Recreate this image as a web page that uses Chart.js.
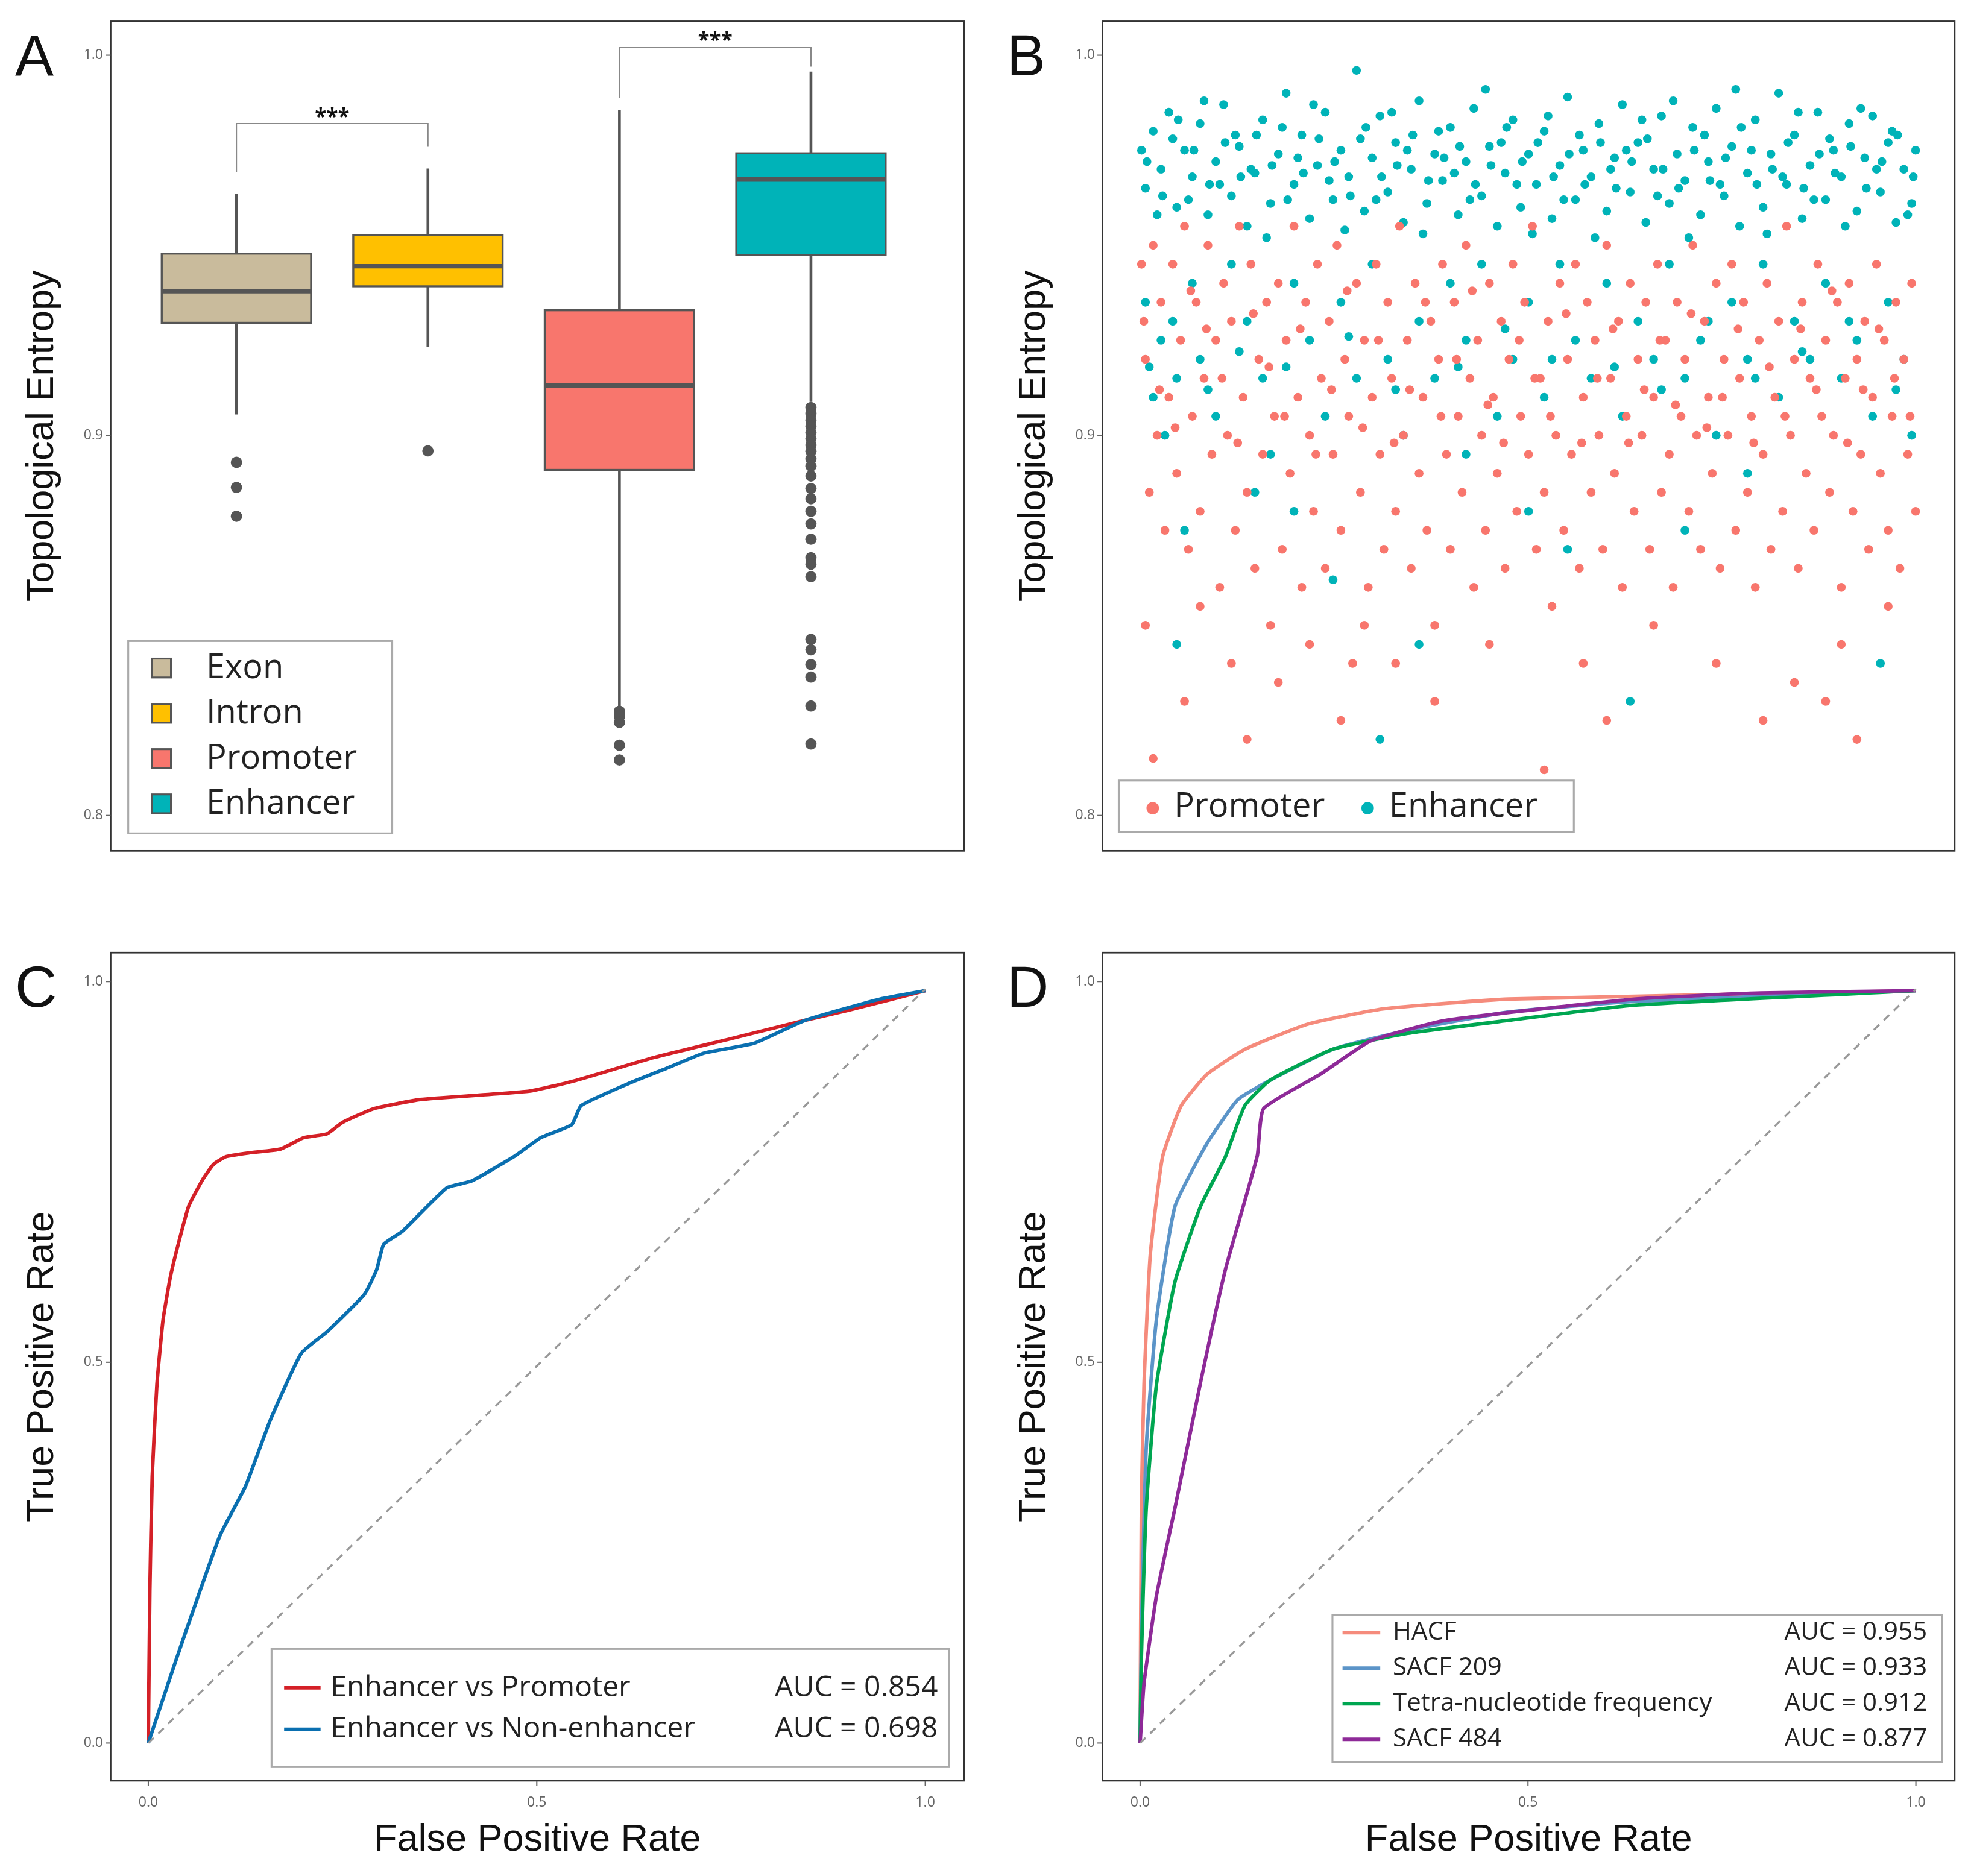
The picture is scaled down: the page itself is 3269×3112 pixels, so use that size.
<!DOCTYPE html>
<html><head><meta charset="utf-8">
<script src="https://cdn.jsdelivr.net/npm/chart.js@4"></script>
<style>body{margin:0;background:#fff;width:3269px;height:3112px;position:relative;overflow:hidden}canvas{position:absolute}</style>
</head><body>
<canvas id="cA"></canvas><canvas id="cB"></canvas><canvas id="cC"></canvas><canvas id="cD"></canvas>
<script>
var S = 2.085;
var FONT = '"Open Sans", "DejaVu Sans", sans-serif';
var TFONT = '"Liberation Sans", Arial, sans-serif';

// ---- panel A: box plot stats [whiskerLow, q1, median, q3, whiskerHigh]
var boxNames = ["Exon", "Intron", "Promoter", "Enhancer"];
var boxColors = ["#c9bb9c", "#ffc000", "#f8766d", "#00b3b8"];
var boxStats = [
  [0.9055, 0.9296, 0.9379, 0.9478, 0.9636],
  [0.9233, 0.9392, 0.9445, 0.9527, 0.9702],
  [0.8288, 0.8909, 0.9131, 0.9329, 0.9855],
  [0.9088, 0.9474, 0.9673, 0.9742, 0.9957]
];
var outExon = [0.8929, 0.8863, 0.8787];
var outIntron = [0.8959];
var outPromoter = [0.8274, 0.8261, 0.8245, 0.8185, 0.8146];
var outEnhancer = [0.9073, 0.9057, 0.9040, 0.9024, 0.9007, 0.8991, 0.8974, 0.8958, 0.8938, 0.8919,
  0.8893, 0.8860, 0.8833, 0.8800, 0.8767, 0.8727, 0.8678, 0.8661, 0.8628, 0.8463, 0.8436, 0.8397, 0.8364, 0.8288, 0.8188];

// ---- panel B: scatter points [x, entropy]
var enhancerPts = [[.01,.965],[.02,.98],[.03,.97],[.04,.985],[.05,.96],[.06,.975],[.07,.968],[.08,.982],[.09,.958],[.10,.972],[.11,.987],[.12,.963],[.13,.976],[.14,.955],[.15,.969],[.16,.983],[.17,.961],[.18,.974],[.19,.99],[.20,.966],[.21,.979],[.22,.957],[.23,.971],[.24,.985],[.25,.962],[.26,.975],[.27,.968],[.28,.996],[.29,.959],[.30,.973],[.31,.984],[.32,.964],[.33,.977],[.34,.956],[.35,.97],[.36,.988],[.37,.961],[.38,.974],[.39,.967],[.40,.981],[.41,.958],[.42,.972],[.43,.986],[.44,.963],[.45,.976],[.46,.955],[.47,.969],[.48,.983],[.49,.96],[.50,.974],[.51,.966],[.52,.98],[.53,.957],[.54,.971],[.55,.989],[.56,.962],[.57,.975],[.58,.968],[.59,.982],[.60,.959],[.61,.973],[.62,.987],[.63,.964],[.64,.977],[.65,.956],[.66,.97],[.67,.984],[.68,.961],[.69,.974],[.70,.967],[.71,.981],[.72,.958],[.73,.972],[.74,.986],[.75,.963],[.76,.976],[.77,.955],[.78,.969],[.79,.983],[.80,.96],[.81,.974],[.82,.99],[.83,.966],[.84,.979],[.85,.957],[.86,.971],[.87,.985],[.88,.962],[.89,.975],[.90,.968],[.91,.982],[.92,.959],[.93,.973],[.94,.984],[.95,.964],[.96,.977],[.97,.956],[.98,.97],[.99,.961],
  [.005,.975],[.025,.958],[.045,.978],[.065,.962],[.085,.988],[.105,.966],[.125,.979],[.145,.97],[.165,.952],[.185,.981],[.205,.973],[.225,.987],[.245,.967],[.265,.954],[.285,.978],[.305,.962],[.325,.985],[.345,.975],[.365,.953],[.385,.98],[.405,.969],[.425,.962],[.445,.991],[.465,.977],[.485,.966],[.505,.953],[.525,.984],[.545,.962],[.565,.979],[.585,.952],[.605,.97],[.625,.975],[.645,.983],[.665,.963],[.685,.988],[.705,.952],[.725,.979],[.745,.966],[.765,.991],[.785,.975],[.805,.953],[.825,.968],[.845,.985],[.865,.962],[.885,.978],[.905,.955],[.925,.986],[.945,.97],[.965,.98],[.985,.958],[.995,.975],
  [.012,.972],[.032,.963],[.052,.983],[.072,.975],[.092,.966],[.112,.977],[.132,.968],[.152,.979],[.172,.971],[.192,.962],[.212,.969],[.232,.978],[.252,.972],[.272,.963],[.292,.981],[.312,.968],[.332,.971],[.352,.979],[.372,.967],[.392,.973],[.412,.976],[.432,.966],[.452,.971],[.472,.981],[.492,.972],[.512,.977],[.532,.968],[.552,.974],[.572,.966],[.592,.977],[.612,.965],[.632,.972],[.652,.978],[.672,.97],[.692,.965],[.712,.975],[.732,.967],[.752,.973],[.772,.981],[.792,.966],[.812,.97],[.832,.977],[.852,.965],[.872,.974],[.892,.969],[.912,.976],[.932,.965],[.952,.972],[.972,.979],[.992,.968],
  [.01,.935],[.02,.91],[.03,.925],[.035,.9],[.05,.915],[.06,.875],[.07,.94],[.08,.92],[.1,.905],[.12,.945],[.14,.93],[.16,.915],[.17,.895],[.2,.94],[.22,.925],[.24,.905],[.26,.935],[.28,.915],[.3,.945],[.32,.92],[.34,.9],[.36,.93],[.38,.915],[.4,.94],[.42,.925],[.44,.945],[.46,.905],[.48,.92],[.5,.935],[.52,.91],[.54,.945],[.56,.925],[.58,.915],[.6,.94],[.62,.905],[.64,.93],[.66,.92],[.68,.945],[.7,.915],[.72,.925],[.74,.9],[.76,.935],[.78,.92],[.8,.945],[.82,.91],[.84,.93],[.86,.92],[.88,.94],[.9,.915],[.92,.925],[.94,.905],[.96,.935],[.98,.92],[.99,.9],
  [.015,.918],[.045,.93],[.09,.912],[.13,.922],[.19,.918],[.27,.926],[.33,.912],[.41,.918],[.47,.928],[.53,.92],[.61,.918],[.67,.912],[.73,.93],[.79,.915],[.85,.922],[.91,.93],[.97,.912],
  [.05,.845],[.2,.88],[.25,.862],[.31,.82],[.36,.845],[.5,.88],[.55,.87],[.63,.83],[.7,.875],[.78,.89],[.95,.84],[.15,.885],[.42,.895]];
var promoterPts = [[.005,.945],[.01,.92],[.015,.885],[.02,.95],[.025,.9],[.03,.935],[.035,.875],[.04,.91],[.045,.945],[.05,.89],[.055,.925],[.06,.955],[.065,.87],[.07,.905],[.075,.935],[.08,.88],[.085,.915],[.09,.95],[.095,.895],[.10,.925],[.105,.86],[.11,.94],[.115,.9],[.12,.93],[.125,.875],[.13,.955],[.135,.91],[.14,.885],[.145,.945],[.15,.865],[.155,.92],[.16,.895],[.165,.935],[.17,.85],[.175,.905],[.18,.94],[.185,.87],[.19,.925],[.195,.89],[.20,.955],[.205,.91],[.21,.86],[.215,.935],[.22,.9],[.225,.88],[.23,.945],[.235,.915],[.24,.865],[.245,.93],[.25,.895],[.255,.95],[.26,.875],[.265,.92],[.27,.905],[.275,.84],[.28,.94],[.285,.885],[.29,.925],[.295,.86],[.30,.91],[.305,.945],[.31,.895],[.315,.87],[.32,.935],[.325,.915],[.33,.88],[.335,.955],[.34,.9],[.345,.925],[.35,.865],[.355,.94],[.36,.89],[.365,.91],[.37,.875],[.375,.93],[.38,.85],[.385,.92],[.39,.945],[.395,.895],[.40,.87],[.405,.935],[.41,.905],[.415,.885],[.42,.95],[.425,.915],[.43,.86],[.435,.925],[.44,.9],[.445,.875],[.45,.94],[.455,.91],[.46,.89],[.465,.93],[.47,.865],[.475,.92],[.48,.945],[.485,.88],[.49,.905],[.495,.935],[.50,.895],[.505,.955],[.51,.87],[.515,.915],[.52,.885],[.525,.93],[.53,.855],[.535,.9],[.54,.94],[.545,.875],[.55,.92],[.555,.895],[.56,.945],[.565,.865],[.57,.91],[.575,.935],[.58,.885],[.585,.925],[.59,.9],[.595,.87],[.60,.95],[.605,.915],[.61,.89],[.615,.93],[.62,.86],[.625,.905],[.63,.94],[.635,.88],[.64,.92],[.645,.9],[.65,.935],[.655,.87],[.66,.91],[.665,.945],[.67,.885],[.675,.925],[.68,.895],[.685,.86],[.69,.935],[.695,.905],[.70,.92],[.705,.88],[.71,.95],[.715,.9],[.72,.87],[.725,.93],[.73,.91],[.735,.89],[.74,.94],[.745,.865],[.75,.92],[.755,.9],[.76,.945],[.765,.875],[.77,.915],[.775,.935],[.78,.885],[.785,.905],[.79,.86],[.795,.925],[.80,.895],[.805,.94],[.81,.87],[.815,.91],[.82,.93],[.825,.88],[.83,.955],[.835,.9],[.84,.92],[.845,.865],[.85,.935],[.855,.89],[.86,.915],[.865,.875],[.87,.945],[.875,.905],[.88,.925],[.885,.885],[.89,.9],[.895,.935],[.90,.86],[.905,.915],[.91,.94],[.915,.88],[.92,.92],[.925,.895],[.93,.93],[.935,.87],[.94,.91],[.945,.945],[.95,.89],[.955,.925],[.96,.875],[.965,.905],[.97,.935],[.975,.865],[.98,.92],[.985,.895],[.99,.94],[.995,.88],
  [.008,.93],[.028,.912],[.048,.902],[.068,.938],[.088,.928],[.108,.915],[.128,.898],[.148,.932],[.168,.918],[.188,.905],[.208,.928],[.228,.895],[.248,.912],[.268,.938],[.288,.902],[.308,.925],[.328,.898],[.348,.912],[.368,.935],[.388,.905],[.408,.92],[.428,.938],[.448,.908],[.468,.898],[.488,.925],[.508,.915],[.528,.905],[.548,.932],[.568,.898],[.588,.915],[.608,.928],[.628,.898],[.648,.912],[.668,.925],[.688,.908],[.708,.932],[.728,.902],[.748,.91],[.768,.928],[.788,.898],[.808,.918],[.828,.905],[.848,.928],[.868,.912],[.888,.938],[.908,.898],[.928,.912],[.948,.928],[.968,.915],[.988,.905],
  [.01,.85],[.02,.815],[.06,.83],[.08,.855],[.12,.84],[.14,.82],[.18,.835],[.22,.845],[.26,.825],[.29,.85],[.33,.84],[.38,.83],[.45,.845],[.52,.812],[.57,.84],[.6,.825],[.66,.85],[.74,.84],[.8,.825],[.84,.835],[.88,.83],[.92,.82],[.9,.845],[.96,.855]];

// ---- panel C / D: ROC curves [FPR, TPR]
var rocEvP = [[0,0],[0.002,0.2],[0.005,0.35],[0.011,0.47],[0.019,0.556],[0.028,0.61],[0.036,0.645],[0.052,0.705],[0.07,0.74],[0.084,0.76],[0.1,0.77],[0.13,0.775],[0.17,0.78],[0.2,0.795],[0.23,0.8],[0.25,0.815],[0.29,0.833],[0.35,0.845],[0.49,0.856],[0.55,0.87],[0.65,0.9],[0.75,0.925],[0.845,0.949],[0.9,0.962],[1,0.988]];
var rocEvN = [[0,0],[0.036,0.11],[0.092,0.272],[0.125,0.337],[0.157,0.424],[0.197,0.512],[0.23,0.54],[0.278,0.589],[0.294,0.622],[0.303,0.655],[0.327,0.672],[0.384,0.729],[0.416,0.738],[0.472,0.771],[0.505,0.795],[0.545,0.812],[0.557,0.837],[0.618,0.866],[0.667,0.886],[0.715,0.906],[0.78,0.919],[0.845,0.949],[0.942,0.977],[1,0.988]];
var rocHACF = [[0,0],[0.0016,0.31],[0.005,0.47],[0.013,0.64],[0.029,0.77],[0.053,0.837],[0.086,0.878],[0.135,0.911],[0.216,0.944],[0.313,0.964],[0.475,0.977],[1,0.988]];
var rocS209 = [[0,0],[0.0016,0.14],[0.008,0.39],[0.021,0.556],[0.045,0.705],[0.086,0.787],[0.126,0.845],[0.167,0.87],[0.248,0.911],[0.345,0.936],[0.475,0.96],[0.637,0.974],[1,0.988]];
var rocTetra = [[0,0],[0.0016,0.11],[0.008,0.31],[0.021,0.47],[0.045,0.606],[0.078,0.705],[0.11,0.77],[0.135,0.837],[0.167,0.87],[0.248,0.911],[0.345,0.932],[0.475,0.949],[0.637,0.969],[1,0.988]];
var rocS484 = [[0,0],[0.005,0.078],[0.021,0.193],[0.045,0.309],[0.078,0.474],[0.11,0.622],[0.151,0.771],[0.159,0.833],[0.232,0.878],[0.297,0.922],[0.394,0.949],[0.637,0.977],[0.8,0.985],[1,0.988]];
var diag = [[0,0],[1,0.99]];
var yTicksAB = [0.8, 0.9, 1.0];
var rocTicks = [0, 0.5, 1.0];

function pts(a){ return a.map(function(p){ return {x:p[0], y:p[1]}; }); }
function f(sz, w, fam){ return (w||"normal") + " " + Math.round(sz*S) + "px " + (fam||FONT); }

// frame + ticks + titles, all placed through the chart's scales
function frame(opt){
  return { id:"frame", afterDraw:function(ch){
    var c = ch.ctx, a = ch.chartArea, xs = ch.scales.x, ys = ch.scales.y;
    c.save();
    c.strokeStyle = "#333"; c.lineWidth = 1.3*S;
    c.strokeRect(a.left, a.top, a.right-a.left, a.bottom-a.top);
    c.fillStyle = "#666"; c.font = f(11); c.strokeStyle = "#666"; c.lineWidth = 1*S;
    c.textAlign = "right"; c.textBaseline = "middle";
    opt.yt.forEach(function(v){ var y = ys.getPixelForValue(v);
      c.beginPath(); c.moveTo(a.left-4*S, y); c.lineTo(a.left, y); c.stroke();
      c.fillText(v.toFixed(1), a.left-6*S, y); });
    if (opt.xt) { c.textAlign = "center"; c.textBaseline = "top";
      opt.xt.forEach(function(v){ var x = xs.getPixelForValue(v);
        c.beginPath(); c.moveTo(x, a.bottom); c.lineTo(x, a.bottom+4*S); c.stroke();
        c.fillText(v.toFixed(1), x, a.bottom+12*S); });
      c.fillStyle = "#111"; c.font = f(30, "normal", TFONT);
      c.fillText(opt.xTitle, (a.left+a.right)/2, a.bottom+32*S);
    }
    c.fillStyle = "#111"; c.font = f(30, "normal", TFONT);
    c.translate(a.left-54*S, (a.top+a.bottom)/2); c.rotate(-Math.PI/2);
    c.textAlign = "center"; c.textBaseline = "middle";
    c.fillText(opt.yTitle, 0, 0);
    c.restore();
    c.save(); c.fillStyle = "#111"; c.font = f(46, "normal", TFONT); c.textBaseline = "alphabetic"; c.textAlign = "left";
    c.fillText(opt.letter, a.left-76*S, a.top+43*S); c.restore();
    if (opt.extra) opt.extra(ch);
  }};
}

function make(id, left, top, w, h, pad, cfg){
  var cv = document.getElementById(id);
  cv.width = Math.round(w*S); cv.height = Math.round(h*S);
  cv.style.left = Math.round(left*S)+"px"; cv.style.top = Math.round(top*S)+"px";
  cfg.options = Object.assign({
    responsive:false, animation:false, devicePixelRatio:1,
    layout:{padding:{left:pad[0]*S, top:pad[1]*S, right:pad[2]*S, bottom:pad[3]*S}},
    plugins:{legend:{display:false}, tooltip:{enabled:false}}
  }, cfg.options);
  return new Chart(cv, cfg);
}
function hidden(min, max){ return {type:"linear", min:min, max:max, display:false}; }

// ---------- A
var boxPlugin = { id:"boxes", beforeDatasetsDraw:function(ch){
  var c = ch.ctx, xs = ch.scales.x, ys = ch.scales.y, hw = 0.39;
  c.save(); c.strokeStyle = "#555";
  boxStats.forEach(function(s, i){
    var x = xs.getPixelForValue(i+1), x0 = xs.getPixelForValue(i+1-hw), x1 = xs.getPixelForValue(i+1+hw);
    c.lineWidth = 2.2*S;
    c.beginPath(); c.moveTo(x, ys.getPixelForValue(s[0])); c.lineTo(x, ys.getPixelForValue(s[1]));
    c.moveTo(x, ys.getPixelForValue(s[3])); c.lineTo(x, ys.getPixelForValue(s[4])); c.stroke();
    var yq3 = ys.getPixelForValue(s[3]), yq1 = ys.getPixelForValue(s[1]);
    c.fillStyle = boxColors[i]; c.fillRect(x0, yq3, x1-x0, yq1-yq3);
    c.lineWidth = 1.6*S; c.strokeRect(x0, yq3, x1-x0, yq1-yq3);
    c.lineWidth = 3.5*S; c.beginPath();
    c.moveTo(x0, ys.getPixelForValue(s[2])); c.lineTo(x1, ys.getPixelForValue(s[2])); c.stroke();
  });
  // significance brackets
  c.strokeStyle = "#888"; c.lineWidth = 1*S; c.fillStyle = "#111"; c.font = f(17, "bold");
  c.textAlign = "center"; c.textBaseline = "middle";
  [[1, 2, 0.9693, 0.9759, 0.9820], [3, 4, 0.9888, 0.9970, 1.0020]].forEach(function(b){
    var xa = xs.getPixelForValue(b[0]), xb = xs.getPixelForValue(b[1]), yt = ys.getPixelForValue(b[4]);
    c.beginPath(); c.moveTo(xa, ys.getPixelForValue(b[2])); c.lineTo(xa, yt); c.lineTo(xb, yt);
    c.lineTo(xb, ys.getPixelForValue(b[3])); c.stroke();
    c.fillText("***", (xa+xb)/2, yt-5*S);
  });
  c.restore();
}};
function legendA(ch){
  var c = ch.ctx; c.save();
  var bx = 102*S, by = 510*S;
  c.fillStyle = "#fff"; c.strokeStyle = "#aaa"; c.lineWidth = 1.5*S;
  c.fillRect(bx, by, 210*S, 153*S); c.strokeRect(bx, by, 210*S, 153*S);
  c.font = f(27); c.textBaseline = "middle"; c.textAlign = "left";
  boxNames.forEach(function(n, i){
    var y = (531 + i*36)*S;
    c.fillStyle = boxColors[i]; c.fillRect(121*S, y-7*S, 15*S, 15*S);
    c.strokeStyle = "#555"; c.lineWidth = 1.5*S; c.strokeRect(121*S, y-7*S, 15*S, 15*S);
    c.fillStyle = "#222"; c.fillText(n, 164*S, y+1*S);
  });
  c.restore();
}
function outDs(vals, xi){ return { type:"scatter", data:vals.map(function(v){ return {x:xi, y:v}; }),
  pointRadius:4.5*S, pointBackgroundColor:"#555", pointBorderWidth:0 }; }
make("cA", 0, 0, 790, 720, [88, 17, 23, 43], {
  type:"scatter",
  data:{datasets:[outDs(outExon,1), outDs(outIntron,2), outDs(outPromoter,3), outDs(outEnhancer,4)]},
  options:{scales:{x:hidden(0.343, 4.80), y:hidden(0.7907, 1.0089)}},
  plugins:[boxPlugin, frame({yt:yTicksAB, yTitle:"Topological Entropy", letter:"A", extra:legendA})]
});

// ---------- B
function legendB(ch){
  var c = ch.ctx, ox = 790; c.save();
  c.fillStyle = "#fff"; c.strokeStyle = "#aaa"; c.lineWidth = 1.5*S;
  c.fillRect((890-ox)*S, 621*S, 362*S, 41*S); c.strokeRect((890-ox)*S, 621*S, 362*S, 41*S);
  c.font = f(27); c.textBaseline = "middle"; c.textAlign = "left";
  [["Promoter", "#f8766d", 917], ["Enhancer", "#00b3b8", 1088]].forEach(function(l){
    c.fillStyle = l[1]; c.beginPath(); c.arc((l[2]-ox)*S, 643*S, 5*S, 0, Math.PI*2); c.fill();
    c.fillStyle = "#222"; c.fillText(l[0], (l[2]-ox+17)*S, 642*S);
  });
  c.restore();
}
make("cB", 790, 0, 778, 720, [87, 17, 13, 43], {
  type:"scatter",
  data:{datasets:[
    {data:pts(promoterPts), pointRadius:3.5*S, pointBackgroundColor:"#f8766d", pointBorderWidth:0},
    {data:pts(enhancerPts), pointRadius:3.5*S, pointBackgroundColor:"#00b3b8", pointBorderWidth:0}]},
  options:{scales:{x:hidden(-0.045, 1.045), y:hidden(0.7907, 1.0089)}},
  plugins:[frame({yt:yTicksAB, yTitle:"Topological Entropy", letter:"B", extra:legendB})]
});

// ---------- C / D
function line(d, col){ return {data:pts(d), showLine:true, borderColor:col, borderWidth:2.8*S, pointRadius:0, tension:0.15}; }
function dash(){ return {data:pts(diag), showLine:true, borderColor:"#999", borderWidth:1.6*S, borderDash:[6*S, 5*S], pointRadius:0}; }
function rocLegend(ox, oy, box, rows, size, lx, tx, ax, step, first){
  return function(ch){
    var c = ch.ctx; c.save();
    c.fillStyle = "#fff"; c.strokeStyle = "#aaa"; c.lineWidth = 1.5*S;
    c.fillRect((box[0]-ox)*S, (box[1]-oy)*S, box[2]*S, box[3]*S);
    c.strokeRect((box[0]-ox)*S, (box[1]-oy)*S, box[2]*S, box[3]*S);
    c.font = f(size); c.textBaseline = "middle";
    rows.forEach(function(r, i){
      var y = (first + i*step - oy)*S;
      c.strokeStyle = r[1]; c.lineWidth = 2.8*S; c.beginPath();
      c.moveTo((lx[0]-ox)*S, y); c.lineTo((lx[1]-ox)*S, y); c.stroke();
      c.fillStyle = "#222"; c.textAlign = "left"; c.fillText(r[0], (tx-ox)*S, y);
      c.textAlign = "right"; c.fillText(r[2], (ax-ox)*S, y);
    });
    c.restore();
  };
}
var rocScales = {x:hidden(-0.0485, 1.05), y:hidden(-0.0495, 1.038)};
make("cC", 0, 720, 790, 780, [88, 38, 23, 83], {
  type:"scatter",
  data:{datasets:[dash(), line(rocEvN, "#0a6fb0"), line(rocEvP, "#d42027")]},
  options:{scales:rocScales},
  plugins:[frame({yt:rocTicks, xt:rocTicks, yTitle:"True Positive Rate", xTitle:"False Positive Rate", letter:"C",
    extra:rocLegend(0, 720, [216, 1312, 539, 94],
      [["Enhancer vs Promoter", "#d42027", "AUC = 0.854"], ["Enhancer vs Non-enhancer", "#0a6fb0", "AUC = 0.698"]],
      23, [226, 255], 263, 746, 33, 1343)})]
});
make("cD", 790, 720, 778, 780, [87, 38, 13, 83], {
  type:"scatter",
  data:{datasets:[dash(), line(rocS484, "#8e2a98"), line(rocTetra, "#00a651"), line(rocS209, "#5b94c8"), line(rocHACF, "#f58b7c")]},
  options:{scales:{x:hidden(-0.0486, 1.05), y:hidden(-0.0495, 1.038)}},
  plugins:[frame({yt:rocTicks, xt:rocTicks, yTitle:"True Positive Rate", xTitle:"False Positive Rate", letter:"D",
    extra:rocLegend(790, 720, [1060, 1285, 485, 117],
      [["HACF", "#f58b7c", "AUC = 0.955"], ["SACF 209", "#5b94c8", "AUC = 0.933"],
       ["Tetra-nucleotide frequency", "#00a651", "AUC = 0.912"], ["SACF 484", "#8e2a98", "AUC = 0.877"]],
      20, [1068, 1098], 1108, 1533, 28.3, 1299)})]
});
</script>
</body></html>
